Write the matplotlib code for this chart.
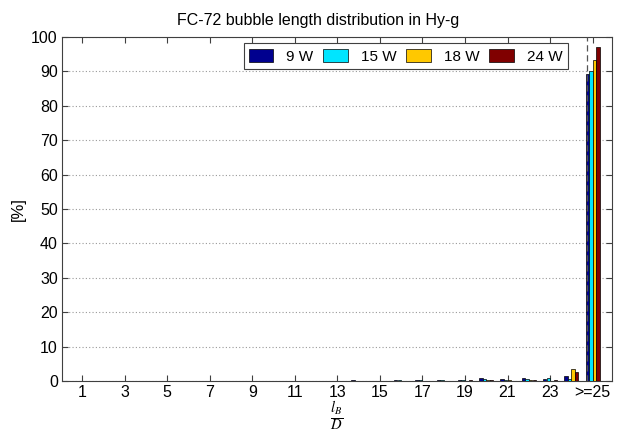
import matplotlib
matplotlib.use("Agg")
import matplotlib.pyplot as plt
import numpy as np

plt.rcParams['font.family'] = ['Liberation Sans', 'DejaVu Sans']
plt.rcParams['mathtext.fontset'] = 'stix'

# bubble length classes l_B/D, last one is >=25
classes = np.arange(1, 26)
tick_pos = [1, 3, 5, 7, 9, 11, 13, 15, 17, 19, 21, 23, 25]
tick_labels = ["1", "3", "5", "7", "9", "11", "13", "15", "17", "19", "21", "23", ">=25"]

series_names = ["9 W", "15 W", "18 W", "24 W"]
series_colors = ["#00008f", "#00e5ff", "#ffc800", "#800000"]

# percentages (classes 1..25)
p_9w = [0, 0, 0, 0, 0, 0, 0, 0, 0, 0, 0, 0,
        0.1, 0.2, 0.1, 0.4, 0.4, 0.3, 0.2, 0.8, 0.6, 0.8, 0.6, 1.4, 89.2]
p_15w = [0, 0, 0, 0, 0, 0, 0, 0, 0, 0, 0, 0,
         0.0, 0.1, 0.1, 0.3, 0.3, 0.2, 0.3, 0.5, 0.4, 0.6, 0.9, 0.5, 90.2]
p_18w = [0, 0, 0, 0, 0, 0, 0, 0, 0, 0, 0, 0,
         0.0, 0.0, 0.0, 0.1, 0.1, 0.1, 0.1, 0.3, 0.2, 0.2, 0.1, 3.6, 93.4]
p_24w = [0, 0, 0, 0, 0, 0, 0, 0, 0, 0, 0, 0,
         0.0, 0.0, 0.1, 0.1, 0.1, 0.1, 0.2, 0.4, 0.1, 0.3, 0.2, 2.6, 97.0]
values = [p_9w, p_15w, p_18w, p_24w]

fig = plt.figure(figsize=(6.23, 4.36), dpi=100)
ax = fig.add_axes([0.0995, 0.126, 0.8825, 0.789])

w = 0.16
for i, (vals, name, col) in enumerate(zip(values, series_names, series_colors)):
    off = (i - 1.5) * 0.17
    ax.bar(classes + off, vals, width=w, color=col, edgecolor="black",
           linewidth=0.5, label=name, zorder=3)

ax.axvline(24.72, color="#555555", linestyle=(0, (5, 3)), linewidth=0.9, zorder=4)

ax.set_xlim(0.06, 25.9)
ax.set_ylim(0, 100)
ax.set_xticks(tick_pos)
ax.set_xticklabels(tick_labels)
ax.set_yticks(np.arange(0, 101, 10))
ax.tick_params(direction="in", top=True, right=True, labelsize=11.5,
               length=4, color="#404040", pad=3)
ax.yaxis.grid(True, linestyle=(0, (1, 2)), color="#999999", linewidth=0.8)
for s in ax.spines.values():
    s.set_color("#404040")

ax.set_title("FC-72 bubble length distribution in Hy-g", fontsize=11.5, pad=9, x=0.465)
ax.set_ylabel("[%]", fontsize=12)
# x label placed by hand so the fraction fits under the tick labels
fig.text(0.54, 0.045, r"$\frac{l_B}{D}$", fontsize=15, ha="center", va="center")

leg = ax.legend(loc="upper right", bbox_to_anchor=(0.92, 0.982), ncol=4,
                fontsize=11, fancybox=False, framealpha=1, edgecolor="#404040",
                handlelength=1.6, handleheight=1.0, columnspacing=0.65,
                handletextpad=0.85, borderpad=0.35, borderaxespad=0)
leg.get_frame().set_linewidth(0.8)

fig.savefig("out.png", dpi=100)
